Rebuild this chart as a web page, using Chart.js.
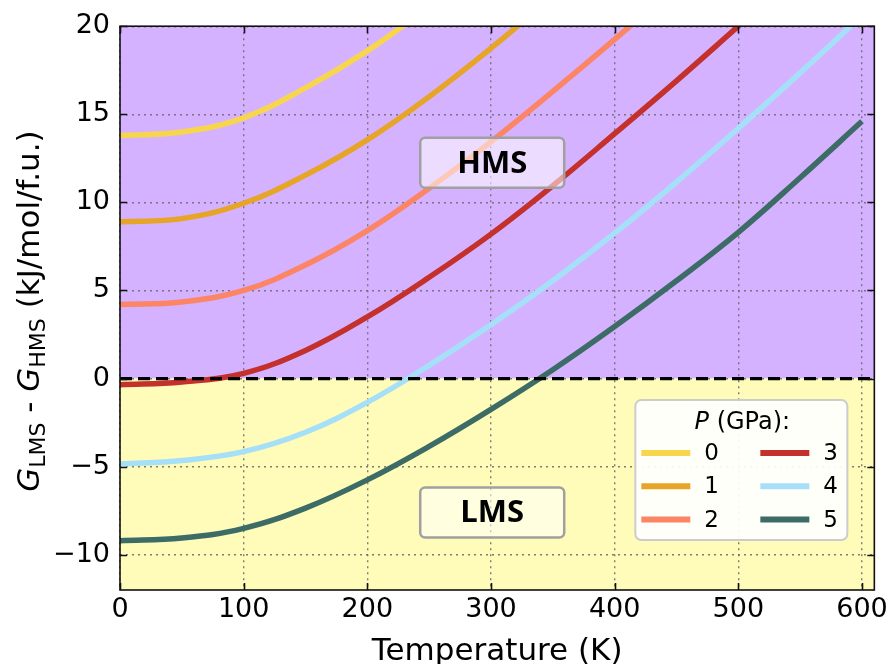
<!DOCTYPE html>
<html><head><meta charset="utf-8">
<script src="https://cdn.jsdelivr.net/npm/chart.js@4.4.0/dist/chart.umd.min.js"></script>
<style>html,body{margin:0;padding:0;background:#fff}#wrap{width:892px;height:664px}</style>
</head><body><div id="wrap"><canvas id="c" width="892" height="664"></canvas></div>
<script>
// ---- data ----
const T = [0, 50, 100, 150, 200, 250, 300, 350, 400, 450, 500, 550, 600];
const P_LABELS = ['0', '1', '2', '3', '4', '5'];
const G_P0 = [13.8, 14.0, 14.8, 16.5, 18.6, 21.1];
const G_P1 = [8.9, 9.08, 9.95, 11.55, 13.55, 16.0, 18.75, 21.7];
const G_P2 = [4.2, 4.35, 5.0, 6.45, 8.4, 10.8, 13.45, 16.3, 19.25, 22.3];
const G_P3 = [-0.35, -0.2, 0.3, 1.6, 3.5, 5.75, 8.2, 10.95, 13.9, 16.9, 20.0, 23.1];
const G_P4 = [-4.85, -4.65, -4.15, -3.05, -1.35, 0.75, 3.05, 5.55, 8.25, 11.15, 14.2, 17.35, 20.6];
const G_P5 = [-9.2, -9.05, -8.5, -7.35, -5.75, -3.85, -1.75, 0.5, 2.95, 5.55, 8.3, 11.4, 14.6];
const SERIES = [G_P0, G_P1, G_P2, G_P3, G_P4, G_P5];
const X_TICKS = [0, 100, 200, 300, 400, 500, 600];
const Y_TICKS = [-10, -5, 0, 5, 10, 15, 20];

// ---- styles ----
const COLORS = ['#F7D64E', '#E6A526', '#FC8565', '#C4302B', '#A6E0F8', '#3D6B66'];
const PURPLE = '#D4B2FF';
const YELLOW = '#FFFCB9';

function pts(vals) { return vals.map((v, i) => ({ x: T[i], y: v })); }

const datasets = [
  { label: 'zero', data: [{ x: 0, y: 0 }, { x: 610, y: 0 }], borderColor: '#000', borderWidth: 3.2,
    borderDash: [12, 6], pointRadius: 0, fill: false, clip: 0, tension: 0 }
].concat(SERIES.map((vals, i) => ({
  label: P_LABELS[i], data: pts(vals), borderColor: COLORS[i], borderWidth: 5.5,
  pointRadius: 0, fill: false, tension: 0.4, clip: 0
})));

function rrect(ctx, x, y, w, h, r) {
  ctx.beginPath();
  ctx.moveTo(x + r, y);
  ctx.lineTo(x + w - r, y); ctx.arcTo(x + w, y, x + w, y + r, r);
  ctx.lineTo(x + w, y + h - r); ctx.arcTo(x + w, y + h, x + w - r, y + h, r);
  ctx.lineTo(x + r, y + h); ctx.arcTo(x, y + h, x, y + h - r, r);
  ctx.lineTo(x, y + r); ctx.arcTo(x, y, x + r, y, r);
  ctx.closePath();
}

const bgPlugin = {
  id: 'bg',
  beforeDraw(chart) {
    const { ctx, chartArea: a, scales: { y } } = chart;
    const y0 = y.getPixelForValue(0);
    ctx.save();
    ctx.fillStyle = PURPLE; ctx.fillRect(a.left, a.top, a.right - a.left, y0 - a.top);
    ctx.fillStyle = YELLOW; ctx.fillRect(a.left, y0, a.right - a.left, a.bottom - y0);
    ctx.restore();
  }
};

const overlayPlugin = {
  id: 'overlay',
  afterDraw(chart) {
    const { ctx, chartArea: a, scales: { x, y } } = chart;
    ctx.save();
    // frame
    ctx.strokeStyle = '#111'; ctx.lineWidth = 1.6;
    ctx.strokeRect(a.left, a.top, a.right - a.left, a.bottom - a.top);
    // inward ticks on all sides
    ctx.beginPath();
    X_TICKS.forEach(v => {
      const px = Math.round(x.getPixelForValue(v)) + 0.5;
      ctx.moveTo(px, a.bottom); ctx.lineTo(px, a.bottom - 7);
      ctx.moveTo(px, a.top); ctx.lineTo(px, a.top + 7);
    });
    Y_TICKS.forEach(v => {
      const py = Math.round(y.getPixelForValue(v)) + 0.5;
      ctx.moveTo(a.left, py); ctx.lineTo(a.left + 7, py);
      ctx.moveTo(a.right, py); ctx.lineTo(a.right - 7, py);
    });
    ctx.stroke();

    // region label boxes
    function labelBox(text, cx, cy, fill) {
      const w = 144, h = 50;
      const px = x.getPixelForValue(cx), py = y.getPixelForValue(cy);
      rrect(ctx, px - w / 2, py - h / 2, w, h, 5);
      ctx.fillStyle = fill; ctx.fill();
      ctx.strokeStyle = '#A0A0A0'; ctx.lineWidth = 2.5; ctx.stroke();
      ctx.fillStyle = '#000';
      ctx.font = 'bold 31px "Open Sans"';
      ctx.textAlign = 'center'; ctx.textBaseline = 'middle';
      ctx.fillText(text, px, py + 1);
    }
    labelBox('HMS', 301, 12.25, 'rgba(255,255,255,0.55)');
    labelBox('LMS', 301, -7.6, 'rgba(255,255,255,0.55)');

    // legend
    const lx = a.right - 239, ly = a.bottom - 190, lw = 212, lh = 140;
    rrect(ctx, lx, ly, lw, lh, 6);
    ctx.fillStyle = 'rgba(255,255,255,0.92)'; ctx.fill();
    ctx.strokeStyle = '#CCCCCC'; ctx.lineWidth = 2; ctx.stroke();
    ctx.fillStyle = '#000'; ctx.textBaseline = 'alphabetic'; ctx.textAlign = 'left';
    const tP = 'P', rest = ' (GPa):';
    ctx.font = '24px "DejaVu Sans"';
    const wRest = ctx.measureText(rest).width;
    ctx.font = 'oblique 24px "DejaVu Sans"';
    const wP = ctx.measureText(tP).width;
    let tx = lx + lw / 2 + 1 - (wP + wRest) / 2;
    ctx.fillText(tP, tx, ly + 29);
    ctx.font = '24px "DejaVu Sans"';
    ctx.fillText(rest, tx + wP, ly + 29);
    ctx.font = '23px "DejaVu Sans"';
    for (let i = 0; i < 6; i++) {
      const col = Math.floor(i / 3), row = i % 3;
      const sx = lx + 6 + col * 119, sy = ly + 53 + row * 33.3;
      ctx.strokeStyle = COLORS[i]; ctx.lineWidth = 6;
      ctx.beginPath(); ctx.moveTo(sx, sy); ctx.lineTo(sx + 49, sy); ctx.stroke();
      ctx.fillStyle = '#000'; ctx.textBaseline = 'middle';
      ctx.fillText(P_LABELS[i], sx + 63, sy + 1);
    }

    // y-axis title with subscripts
    const parts = [
      { t: 'G', f: 'oblique 31px "DejaVu Sans"', dy: 0 },
      { t: 'LMS', f: '22px "DejaVu Sans"', dy: 6 },
      { t: ' - ', f: '31px "DejaVu Sans"', dy: 0 },
      { t: 'G', f: 'oblique 31px "DejaVu Sans"', dy: 0 },
      { t: 'HMS', f: '22px "DejaVu Sans"', dy: 6 },
      { t: ' (kJ/mol/f.u.)', f: '31px "DejaVu Sans"', dy: 0 }
    ];
    let total = 0;
    parts.forEach(p => { ctx.font = p.f; p.w = ctx.measureText(p.t).width; total += p.w; });
    ctx.translate(39, (a.top + a.bottom) / 2 + 3);
    ctx.rotate(-Math.PI / 2);
    ctx.textBaseline = 'alphabetic'; ctx.textAlign = 'left'; ctx.fillStyle = '#000';
    let cx = -total / 2;
    parts.forEach(p => { ctx.font = p.f; ctx.fillText(p.t, cx, p.dy); cx += p.w; });
    ctx.restore();
  }
};

const minusFmt = v => (v < 0 ? '\u2212' + Math.abs(v) : String(v));

new Chart(document.getElementById('c'), {
  type: 'line',
  data: { datasets },
  options: {
    responsive: false, animation: false, devicePixelRatio: 1,
    layout: { padding: { top: 23, right: 16, left: 0, bottom: 0 } },
    plugins: { legend: { display: false }, tooltip: { enabled: false } },
    scales: {
      x: {
        type: 'linear', min: 0, max: 610,
        afterBuildTicks: s => { s.ticks = X_TICKS.map(v => ({ value: v })); },
        afterFit: s => { s.height = 74; },
        ticks: { font: { family: 'DejaVu Sans', size: 27 }, color: '#000', padding: 4, maxRotation: 0,
                 callback: minusFmt },
        grid: { color: 'rgba(110,110,110,0.9)', lineWidth: 1.4, drawTicks: false },
        border: { display: false, dash: [2, 4] },
        title: { display: true, text: 'Temperature (K)', color: '#000',
                 font: { family: 'DejaVu Sans', size: 31, lineHeight: 0.8 }, padding: { top: 0, bottom: 0 } }
      },
      y: {
        type: 'linear', min: -12, max: 20,
        afterBuildTicks: s => { s.ticks = Y_TICKS.map(v => ({ value: v })); },
        afterFit: s => { s.width = 120; },
        ticks: { font: { family: 'DejaVu Sans', size: 27 }, color: '#000', padding: 10,
                 callback: minusFmt },
        grid: { color: 'rgba(110,110,110,0.9)', lineWidth: 1.4, drawTicks: false },
        border: { display: false, dash: [2, 4] }
      }
    }
  },
  plugins: [bgPlugin, overlayPlugin]
});
</script>
</body></html>
